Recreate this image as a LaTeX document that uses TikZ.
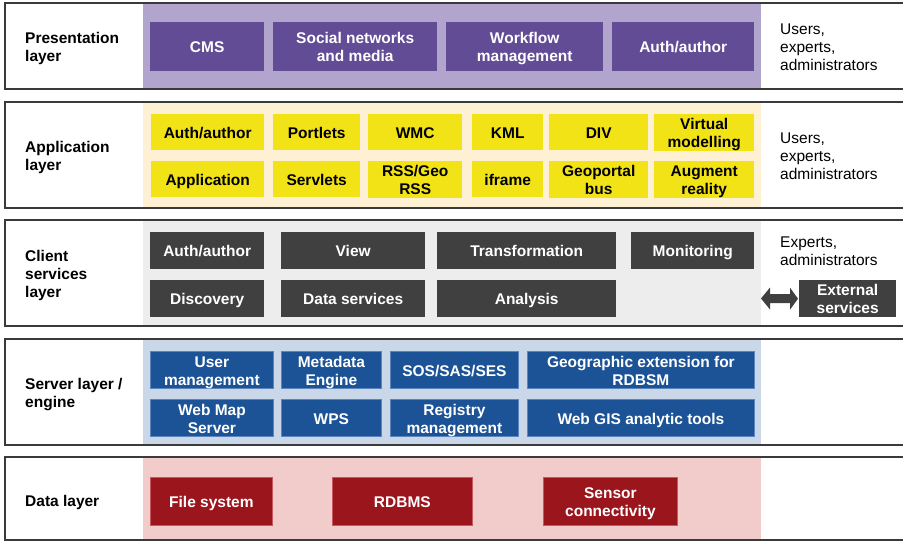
\documentclass[tikz,border=0pt]{standalone}
\usepackage{fontspec}
\setmainfont{Liberation Sans}
\usetikzlibrary{calc}
\definecolor{pband}{HTML}{B1A5CD}
\definecolor{pbox}{HTML}{634C96}
\definecolor{yband}{HTML}{FEF1D3}
\definecolor{ybox}{HTML}{F2E316}
\definecolor{gband}{HTML}{EDEDED}
\definecolor{gbox}{HTML}{404040}
\definecolor{bband}{HTML}{CAD7E9}
\definecolor{bbox}{HTML}{1C5396}
\definecolor{bedge}{HTML}{5E86BE}
\definecolor{rband}{HTML}{F2CBCB}
\definecolor{rbox}{HTML}{9A151C}
\definecolor{redge}{HTML}{C8585E}
\definecolor{lline}{HTML}{3A3A3A}
\newcommand{\tx}[1]{\rule{0pt}{15.5pt}#1\rule[-3.3pt]{0pt}{3.3pt}}
\newcommand{\mybox}[7]{\node[#1,minimum width={#5pt-#3pt},minimum height={#6pt-#4pt}] (#2) at (#3,#4) {\tx{#7}};}
\begin{document}
\begin{tikzpicture}[x=1pt,y=-1pt,
  boxbase/.style={rectangle, inner sep=0pt, anchor=north west, align=center, font=\bfseries\fontsize{15.5}{18}\selectfont},
  pb/.style={boxbase, fill=pbox, text=white},
  yb/.style={boxbase, fill=ybox, text=black},
  gb/.style={boxbase, fill=gbox, text=white},
  bb/.style={boxbase, fill=bbox, draw=bedge, line width=0.8pt, text=white},
  rb/.style={boxbase, fill=rbox, draw=redge, line width=0.8pt, text=white},
  layerline/.style={draw=lline, line width=1.4pt},
  laylabel/.style={anchor=west, align=left, inner sep=0pt, font=\bfseries\fontsize{15.5}{18}\selectfont},
  sidetext/.style={anchor=west, align=left, inner sep=0pt, font=\fontsize{15.5}{18}\selectfont}
]
\useasboundingbox (0,0) rectangle (903,541);
\fill[white] (0,0) rectangle (903,541);

% bands
\fill[pband] (143,3) rectangle (761,89);
\fill[yband] (143,102) rectangle (761,208);
\fill[gband] (143,220) rectangle (761,326);
\fill[bband] (143,339) rectangle (761,445);
\fill[rband] (143,457) rectangle (761,540);

% layer outlines
\draw[layerline] (904,3) -- (5,3) -- (5,89) -- (904,89);
\draw[layerline] (904,102) -- (5,102) -- (5,208) -- (904,208);
\draw[layerline] (904,220) -- (5,220) -- (5,326) -- (904,326);
\draw[layerline] (904,339) -- (5,339) -- (5,445) -- (904,445);
\draw[layerline] (904,457) -- (5,457) -- (5,540) -- (904,540);

% layer labels
\node[laylabel] (l1) at (25,46) {\tx{Presentation\\layer}};
\node[laylabel] (l2) at (25,155) {\tx{Application\\layer}};
\node[laylabel] (l3) at (25,273) {\tx{Client\\services\\layer}};
\node[laylabel] (l4) at (25,392) {\tx{Server layer /\\engine}};
\node[laylabel] (l5) at (25,500) {\tx{Data layer}};

% side texts
\node[sidetext] (s1) at (780,46) {\tx{Users,\\experts,\\administrators}};
\node[sidetext] (s2) at (780,155) {\tx{Users,\\experts,\\administrators}};
\node[sidetext] (s3) at (780,250) {\tx{Experts,\\administrators}};

% presentation layer
\mybox{pb}{cms}{150}{22}{264}{71}{CMS}
\mybox{pb}{social}{273}{22}{437}{71}{Social networks\\and media}
\mybox{pb}{workflow}{446}{22}{603}{71}{Workflow\\management}
\mybox{pb}{pauth}{612}{22}{754}{71}{Auth/author}

% application layer
\mybox{yb}{aauth}{151}{114}{264}{150}{Auth/author}
\mybox{yb}{portlets}{273}{114}{360}{150}{Portlets}
\mybox{yb}{wmc}{368}{114}{462}{150}{WMC}
\mybox{yb}{kml}{472}{114}{543}{150}{KML}
\mybox{yb}{div}{549}{114}{648}{150}{DIV}
\mybox{yb}{virtual}{654}{114}{754}{150}{Virtual\\modelling}
\mybox{yb}{appl}{151}{161}{264}{197}{Application}
\mybox{yb}{servlets}{273}{161}{360}{197}{Servlets}
\mybox{yb}{rss}{368}{161}{462}{197}{RSS/Geo\\RSS}
\mybox{yb}{iframe}{472}{161}{543}{197}{iframe}
\mybox{yb}{geobus}{549}{161}{648}{197}{Geoportal\\bus}
\mybox{yb}{augment}{654}{161}{754}{197}{Augment\\reality}

% client services layer
\mybox{gb}{cauth}{150}{232}{264}{269}{Auth/author}
\mybox{gb}{view}{281}{232}{425}{269}{View}
\mybox{gb}{transf}{437}{232}{616}{269}{Transformation}
\mybox{gb}{monit}{631}{232}{754}{269}{Monitoring}
\mybox{gb}{discov}{150}{280}{264}{317}{Discovery}
\mybox{gb}{datas}{281}{280}{425}{317}{Data services}
\mybox{gb}{analysis}{437}{280}{616}{317}{Analysis}
\mybox{gb}{ext}{799}{280}{896}{317}{External\\services}
\coordinate (bandedge) at (761,298.5);
\fill[gbox] (bandedge) -- ++(9,-11) -- ++(0,6.5) -- ($(ext.west)+(-9,-4.5)$) -- ++(0,-6.5) -- ($(ext.west)+(-1,0)$) -- ++(-8,11) -- ++(0,-6.5) -- ($(bandedge)+(9,4.5)$) -- ++(0,6.5) -- cycle;

% server layer
\mybox{bb}{userm}{150}{351}{273}{388}{User\\management}
\mybox{bb}{meta}{281}{351}{381}{388}{Metadata\\Engine}
\mybox{bb}{sos}{390}{351}{518}{388}{SOS/SAS/SES}
\mybox{bb}{geoext}{527}{351}{754}{388}{Geographic extension for\\RDBSM}
\mybox{bb}{wms}{150}{399}{273}{436}{Web Map\\Server}
\mybox{bb}{wps}{281}{399}{381}{436}{WPS}
\mybox{bb}{registry}{390}{399}{518}{436}{Registry\\management}
\mybox{bb}{webgis}{527}{399}{754}{436}{Web GIS analytic tools}

% data layer
\mybox{rb}{files}{150}{477}{272}{525}{File system}
\mybox{rb}{rdbms}{332}{477}{472}{525}{RDBMS}
\mybox{rb}{sensor}{543}{477}{677}{525}{Sensor\\connectivity}
\end{tikzpicture}
\end{document}
